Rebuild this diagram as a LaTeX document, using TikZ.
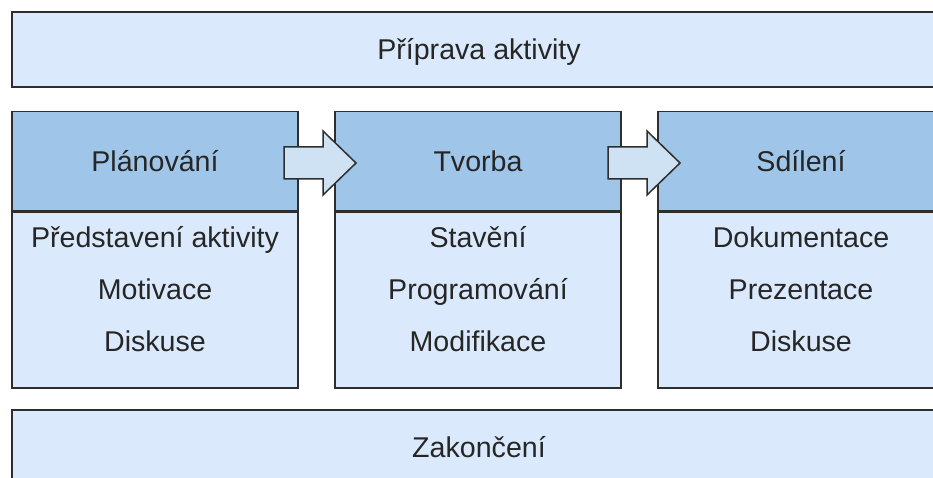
\documentclass[tikz,border=0pt]{standalone}
\usepackage{fontspec}
\setmainfont{Liberation Sans}
\usetikzlibrary{positioning}
\definecolor{headblue}{HTML}{9FC5E8}
\definecolor{bodyblue}{HTML}{DAEAFC}
\definecolor{arrowblue}{HTML}{CFE2F3}
\definecolor{edgegray}{HTML}{2E2E2E}

\begin{document}
\begin{tikzpicture}
        [x=1pt,y=-1pt,%%%%%%%%%%%%%%%%%%%%%%%%%%%%%%
        boxframe/.style={draw=edgegray, line width=1.5pt, inner sep=0pt},
        bandbox/.style={boxframe, fill=bodyblue, minimum width=934pt, minimum height=75pt},
        colhead/.style={boxframe, fill=headblue, minimum width=286pt, minimum height=99pt},
        colbody/.style={boxframe, fill=bodyblue, minimum width=286pt, minimum height=176pt},
        itemtext/.style={text=black!85, font=\fontsize{28.6}{34}\selectfont,
                      text height=20.5pt, text depth=0pt},
        blockarrow/.style={draw=edgegray, fill=arrowblue, line width=1.5pt, line join=miter},
        ]%%%%%%%%%%%%%%%%%%%%%%%%%%%%%%
        \clip (0,0) rectangle (933,478);
        % Top and bottom bands
        \node[bandbox, itemtext] (prep) at (479,49.5) {Příprava aktivity};
        \node[bandbox, itemtext] (end) at (479,447.5) {Zakončení};
        % Three columns: header, body and three items
        \foreach \name/\x/\title/\one/\two/\three in {
            plan/155/Plánování/Představení aktivity/Motivace/Diskuse,
            tvorba/478/Tvorba/Stavění/Programování/Modifikace,
            sdileni/801/Sdílení/Dokumentace/Prezentace/Diskuse}{
          \node[colhead, itemtext] (\name) at (\x,161) {\title};
          \node[colbody, below=0pt of \name] (\name body) {};
          \node[itemtext, inner sep=0pt] (\name one) at (\x,237.5) {\one};
          \node[itemtext, inner sep=0pt] (\name two) at (\x,289.5) {\two};
          \node[itemtext, inner sep=0pt] (\name three) at (\x,341.5) {\three};
        }
        % Block arrows between the headers
        \foreach \x in {284,608}{
          \draw[blockarrow] (\x,147) -- ++(39,0) -- ++(0,-16) -- ++(33,32)
            -- ++(-33,32) -- ++(0,-16) -- ++(-39,0) -- cycle;
        }

      \end{tikzpicture}
\end{document}
